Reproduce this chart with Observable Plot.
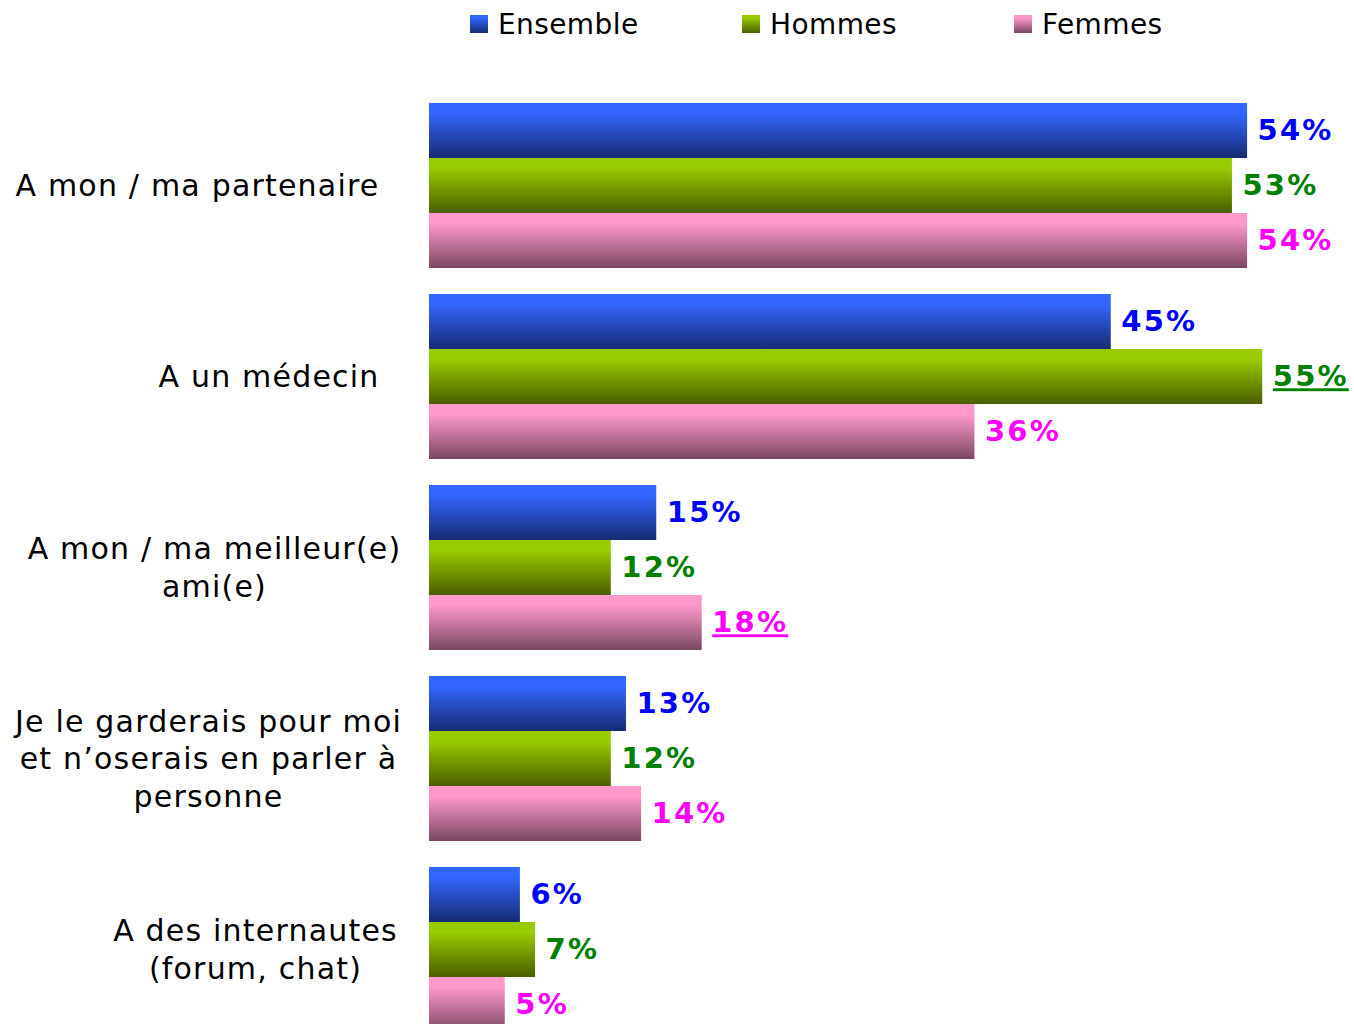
<!DOCTYPE html>
<html>
<head>
<meta charset="utf-8">
<script src="https://cdn.jsdelivr.net/npm/d3@7"></script>
<script src="https://cdn.jsdelivr.net/npm/@observablehq/plot@0.6"></script>
<style>
  html, body { margin: 0; padding: 0; background: #fff; overflow: hidden; }
  #legend { height: 48px; display: flex; align-items: center; padding-left: 470px;
            font-family: "DejaVu Sans", Verdana, sans-serif; font-size: 28px; color: #000; }
  .item { display: flex; align-items: center; width: 272px; letter-spacing: 0.4px; }
  .sw { width: 18px; height: 18px; margin-right: 10px; }
</style>
</head>
<body>
<div id="legend"></div>
<div id="chart"></div>
<script>
const categories = [
  "A mon / ma partenaire",
  "A un médecin",
  "A mon / ma meilleur(e)\nami(e)",
  "Je le garderais pour moi\net n’oserais en parler à\npersonne",
  "A des internautes\n(forum, chat)"
];
const series = ["Ensemble", "Hommes", "Femmes"];
const ensemble = [54, 45, 15, 13, 6];
const hommes = [53, 55, 12, 12, 7];
const femmes = [54, 36, 18, 14, 5];
const underlined = [["Hommes", 1], ["Femmes", 2]]; // [series, category index]

// styles
const gradients = {
  Ensemble: ["#3366FF", "#162B72"],
  Hommes: ["#99CC00", "#4A5E00"],
  Femmes: ["#FF99CC", "#7A4762"]
};
const textColors = { Ensemble: "#0000FF", Hommes: "#008000", Femmes: "#FF00FF" };
const labelLayout = [
  { anchor: "end", dx: -50 },
  { anchor: "end", dx: -50 },
  { anchor: "middle", dx: -215 },
  { anchor: "middle", dx: -221 },
  { anchor: "middle", dx: -174 }
];

const values = { Ensemble: ensemble, Hommes: hommes, Femmes: femmes };
const rows = categories.flatMap((c, i) => series.map(s => ({
  cat: c, series: s, value: values[s][i],
  u: underlined.some(([us, ui]) => us === s && ui === i)
})));
const gid = s => "grad-" + s;

// legend
const legend = document.getElementById("legend");
for (const s of series) {
  const it = document.createElement("div");
  it.className = "item";
  const sw = document.createElement("span");
  sw.className = "sw";
  sw.style.background = `linear-gradient(${gradients[s][0]} 15%, ${gradients[s][1]})`;
  const t = document.createElement("span");
  t.textContent = s;
  it.append(sw, t);
  legend.append(it);
}

const font = "'DejaVu Sans', Verdana, sans-serif";
const valueMarks = [];
for (const s of series) {
  for (const u of [false, true]) {
    valueMarks.push(Plot.text(rows.filter(d => d.series === s && d.u === u), {
      x: "value", y: "series", fy: "cat", text: d => d.value + "%",
      textAnchor: "start", dx: 10, fill: textColors[s], fontWeight: "bold", fontSize: 29,
      fontFamily: font, ariaDescription: u ? "values-underlined" : "values"
    }));
  }
}
const labelMarks = labelLayout.map((L, i) => Plot.text([categories[i]], {
  fy: d => d, text: d => d, frameAnchor: "left", textAnchor: L.anchor, dx: L.dx, dy: -2,
  lineHeight: 1.25, fontSize: 30, fontFamily: font, fill: "#000", ariaDescription: "categories"
}));

const chart = Plot.plot({
  width: 1354,
  height: 994,
  marginTop: 55,
  marginBottom: 10,
  marginLeft: 429,
  marginRight: 16,
  style: { fontFamily: font, background: "#fff", overflow: "visible" },
  x: { domain: [0, 60], axis: null },
  y: { domain: series, paddingInner: 0, paddingOuter: 0, axis: null },
  fy: { domain: categories, paddingInner: 26 / 191, paddingOuter: 0, axis: null, label: null },
  color: { type: "ordinal", domain: series, range: series.map(s => `url(#${gid(s)})`) },
  marks: [
    Plot.barX(rows, { x: "value", y: "series", fy: "cat", fill: "series", inset: 0 }),
    ...valueMarks,
    ...labelMarks
  ]
});

const defs = d3.select(chart).insert("defs", ":first-child");
for (const s of series) {
  const g = defs.append("linearGradient").attr("id", gid(s))
    .attr("x1", 0).attr("y1", 0).attr("x2", 0).attr("y2", 1);
  g.append("stop").attr("offset", 0).attr("stop-color", gradients[s][0]);
  g.append("stop").attr("offset", 0.18).attr("stop-color", gradients[s][0]);
  g.append("stop").attr("offset", 1).attr("stop-color", gradients[s][1]);
}
const root = d3.select(chart);
root.selectAll('g[aria-description="values"] text, g[aria-description="values-underlined"] text')
  .style("letter-spacing", "2.2px");
root.selectAll('g[aria-description="values-underlined"] text')
  .style("text-decoration", "underline").style("text-decoration-thickness", "3px");
root.selectAll('g[aria-description="categories"] text').style("letter-spacing", "1.2px");
document.getElementById("chart").append(chart);
</script>
</body>
</html>
